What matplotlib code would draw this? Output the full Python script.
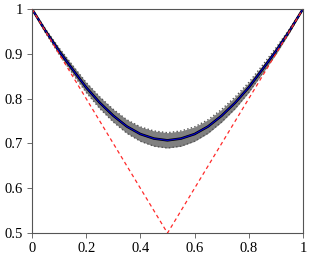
import numpy as np
import matplotlib
matplotlib.use("Agg")
import matplotlib.pyplot as plt
from matplotlib.ticker import FormatStrFormatter

plt.rcParams['font.family'] = ['Liberation Serif', 'DejaVu Serif']

# values
x = [0.0, 0.05, 0.1, 0.15, 0.2, 0.25, 0.3, 0.35, 0.4, 0.45, 0.5,
     0.55, 0.6, 0.65, 0.7, 0.75, 0.8, 0.85, 0.9, 0.95, 1.0]
mean = [1.0, 0.951, 0.906, 0.865, 0.825, 0.791, 0.762, 0.738, 0.721, 0.711, 0.707,
        0.711, 0.721, 0.738, 0.762, 0.791, 0.825, 0.865, 0.906, 0.951, 1.0]
spread = [0.0, 0.004, 0.007, 0.009, 0.011, 0.013, 0.014, 0.015, 0.016, 0.017, 0.017,
          0.017, 0.016, 0.015, 0.014, 0.013, 0.011, 0.009, 0.007, 0.004, 0.0]
bound_x = [0.0, 0.5, 1.0]
bound_y = [1.0, 0.5, 1.0]

mean = np.array(mean)
spread = np.array(spread)

fig = plt.figure(figsize=(3.11, 2.59), dpi=100)
ax = fig.add_axes([0.103, 0.1, 0.871, 0.865])

ax.fill_between(x, mean - spread, mean + spread, color='#808080', lw=0)
ax.plot(x, mean + spread, color='#555555', lw=1.0, ls=':')
ax.plot(x, mean - spread, color='#555555', lw=1.0, ls=':')
ax.plot(x, mean, color='black', lw=1.8)
ax.plot(x, mean, color='#0000cc', lw=0.8)
ax.plot(bound_x, bound_y, color='#ff2a2a', lw=0.9, ls=(0, (3, 2.5)), clip_on=False)

ax.set_xlim(0, 1)
ax.set_ylim(0.5, 1)
ax.set_xticks([0, 0.2, 0.4, 0.6, 0.8, 1])
ax.set_yticks([0.5, 0.6, 0.7, 0.8, 0.9, 1])
ax.xaxis.set_major_formatter(FormatStrFormatter('%g'))
ax.yaxis.set_major_formatter(FormatStrFormatter('%g'))
ax.tick_params(labelsize=10.5, length=3.5, width=0.6, color='#555555', pad=3)
for s in ax.spines.values():
    s.set_color('#555555')
    s.set_linewidth(0.8)

fig.savefig('out.png', dpi=100)
